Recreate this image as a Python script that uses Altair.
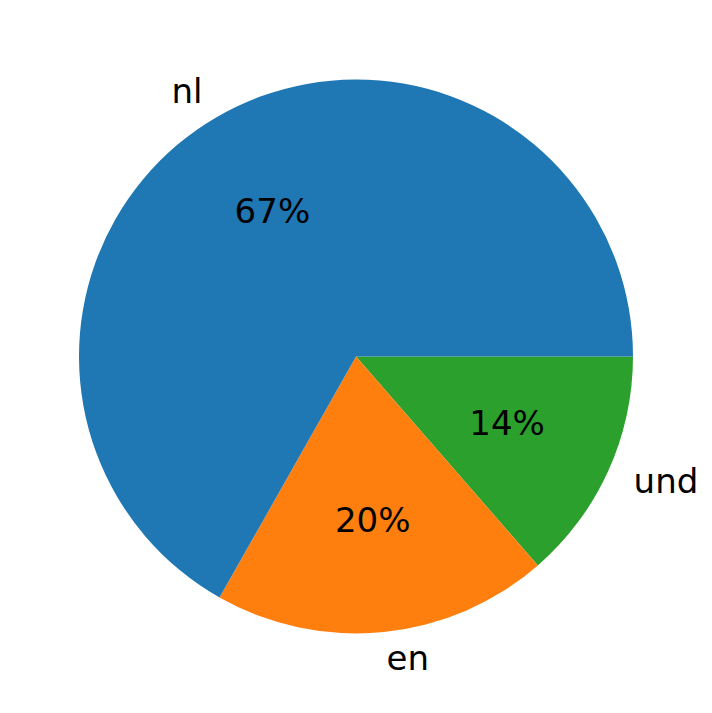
import math
import altair as alt
import pandas as pd

labels = ["und", "en", "nl"]
shares = [13.6, 19.6, 66.8]
colors = ["#2ca02c", "#ff7f0e", "#1f77b4"]
pct_text = ["14%", "20%", "67%"]
side = ["right", "right", "left"]

df = pd.DataFrame({"label": labels, "share": shares, "pct": pct_text, "side": side,
                   "order": [0, 1, 2]})

theta_scale = alt.Scale(range=[math.pi / 2, math.pi / 2 + 2 * math.pi])
theta = alt.Theta("share:Q", stack=True, scale=theta_scale)
order = alt.Order("order:Q")

base = alt.Chart(df)

arcs = base.mark_arc(radius=277, stroke=None).encode(
    theta=theta,
    order=order,
    color=alt.Color("label:N", scale=alt.Scale(domain=labels, range=colors), legend=None),
)

font = "DejaVu Sans"
fs = 34

pcts = base.mark_text(radius=166, fontSize=fs, font=font, color="black",
                      align="center", baseline="middle").encode(
    theta=theta, order=order, text="pct:N")

lab_right = base.transform_calculate(
    t="datum.side == 'right' ? datum.label : ''"
).mark_text(radius=305, fontSize=fs, font=font, color="black",
            align="left", baseline="middle").encode(
    theta=theta, order=order, text="t:N")

lab_left = base.transform_calculate(
    t="datum.side == 'left' ? datum.label : ''"
).mark_text(radius=305, fontSize=fs, font=font, color="black",
            align="right", baseline="middle").encode(
    theta=theta, order=order, text="t:N")

chart = alt.layer(arcs, pcts, lab_right, lab_left).properties(
    width=696, height=697,
    autosize=alt.AutoSizeParams(type="fit", contains="padding"),
    padding=0,
).configure_view(stroke=None)

chart.save("out.html", embed_options={"renderer": "svg", "actions": False})
